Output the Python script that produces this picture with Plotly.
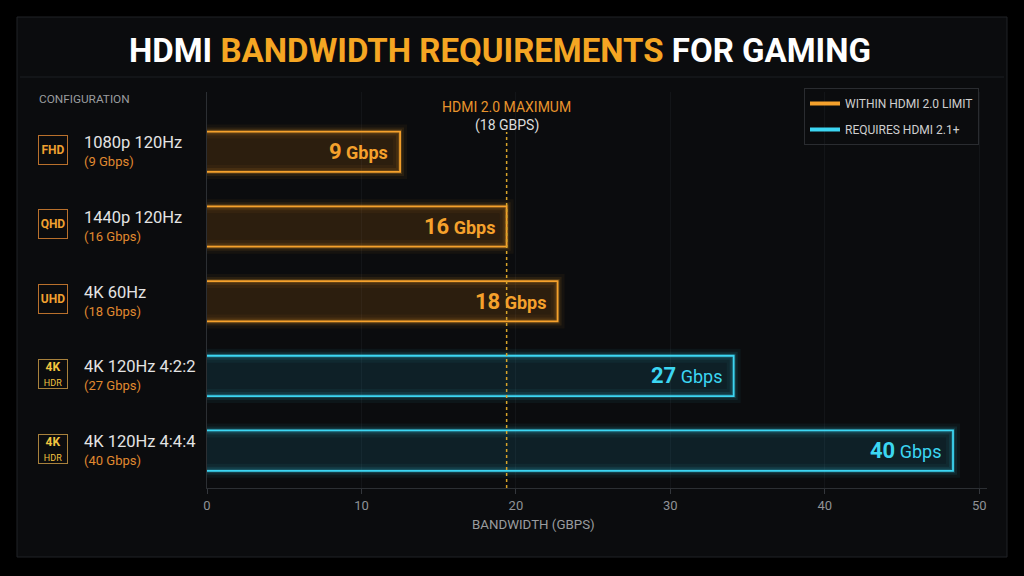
import plotly.graph_objects as go

# data
configs = ["1080p 120Hz", "1440p 120Hz", "4K 60Hz", "4K 120Hz 4:2:2", "4K 120Hz 4:4:4"]
badges = ["FHD", "QHD", "UHD", "4K HDR", "4K HDR"]
rated_gbps = [9, 16, 18, 27, 40]
bar_lengths = [12.5, 19.4, 22.7, 34.1, 48.3]   # drawn length on the axis
needs_hdmi21 = [False, False, False, True, True]
hdmi20_line = 19.4
x_ticks = [0, 10, 20, 30, 40, 50]

ORANGE = "#f5a12c"
CYAN = "#3cd6f2"
FONT = "Roboto"

# plot area in pixels, used for paper coordinates of the decorations
L, R, T, B = 207, 37, 92, 88
PW, PH = 1024 - L - R, 576 - T - B


def px(x):
    return (x - L) / PW


def py(y):
    return (576 - B - y) / PH


fig = go.Figure()

bar_base = -0.6  # left edge hidden behind the axis
for group, color, fill in [(False, ORANGE, "rgba(215,125,20,0.16)"),
                           (True, CYAN, "rgba(40,180,225,0.12)")]:
    ys = [c for c, g in zip(configs, needs_hdmi21) if g == group]
    xs = [v - bar_base for v, g in zip(bar_lengths, needs_hdmi21) if g == group]
    rgb = color.lstrip("#")
    r, g_, b = int(rgb[0:2], 16), int(rgb[2:4], 16), int(rgb[4:6], 16)
    # soft glow layers
    for w, a in [(14, 0.05), (8, 0.09), (4, 0.18)]:
        fig.add_trace(go.Bar(
            x=xs, y=ys, base=bar_base, orientation="h", width=0.54,
            marker_color="rgba(0,0,0,0)",
            marker_line=dict(color=f"rgba({r},{g_},{b},{a})", width=w),
            showlegend=False, hoverinfo="skip"
        ))
    fig.add_trace(go.Bar(
        x=xs, y=ys, base=bar_base, orientation="h", width=0.54,
        marker_color=fill,
        marker_line=dict(color=color, width=1.8),
        showlegend=False
    ))

# legend entries
fig.add_trace(go.Scatter(x=[None], y=[None], mode="lines", name="WITHIN HDMI 2.0 LIMIT",
                         legendgroup="a", line=dict(color=ORANGE, width=4)))
fig.add_trace(go.Scatter(x=[None], y=[None], mode="lines", name="REQUIRES HDMI 2.1+",
                         legendgroup="b", line=dict(color=CYAN, width=4)))

shapes = [
    # panel
    dict(type="rect", xref="paper", yref="paper", x0=px(17), x1=px(1007), y0=py(557), y1=py(17),
         fillcolor="#0b0c0e", line=dict(color="#202226", width=1), layer="below"),
    # line under the title
    dict(type="line", xref="paper", yref="paper", x0=px(20), x1=px(1004), y0=py(77), y1=py(77),
         line=dict(color="#1c1e22", width=1), layer="below"),
    # hdmi 2.0 limit
    dict(type="line", xref="x", yref="paper", x0=hdmi20_line, x1=hdmi20_line, y0=0, y1=py(132),
         line=dict(color="#d9a42a", width=1.5, dash="dot")),
]

ann = [
    dict(text="CONFIGURATION", xref="paper", yref="paper", x=px(37), y=py(99),
         xanchor="left", yanchor="middle", showarrow=False,
         font=dict(size=11.8, color="#9a9c9f")),
    dict(text="HDMI 2.0 MAXIMUM", xref="x", yref="paper", x=hdmi20_line, y=py(97),
         xanchor="center", showarrow=False, font=dict(size=14, color="#e8942c")),
    dict(text="(18 GBPS)", xref="x", yref="paper", x=hdmi20_line, y=py(115),
         xanchor="center", showarrow=False, font=dict(size=14, color="#dcdcdc")),
    dict(text="BANDWIDTH (GBPS)", xref="paper", yref="paper", x=px(533), y=py(534),
         xanchor="center", showarrow=False, font=dict(size=13.3, color="#9a9c9f")),
]

for cfg, badge, rated, length, hi in zip(configs, badges, rated_gbps, bar_lengths, needs_hdmi21):
    col = CYAN if hi else ORANGE
    if badge == "4K HDR":
        btxt = "<b>4K</b><br><span style='font-size:9px'>HDR</span>"
        bcol, bline = "#f2c440", "#a8813c"
    else:
        btxt = f"<b>{badge}</b>"
        bcol, bline = "#f0a030", "#b9702c"
    ann.append(dict(text=btxt, xref="paper", yref="y", x=px(53), y=cfg, yshift=2,
                    xanchor="center", showarrow=False, width=28, height=28, align="center",
                    bordercolor=bline, borderwidth=1, borderpad=0,
                    font=dict(size=12, color=bcol)))
    ann.append(dict(text=cfg, xref="paper", yref="y", x=px(82), y=cfg, yshift=9,
                    xanchor="left", showarrow=False,
                    font=dict(size=16.5, color="#e4e4e4")))
    ann.append(dict(text=f"({rated} Gbps)", xref="paper", yref="y", x=px(82), y=cfg, yshift=-10,
                    xanchor="left", showarrow=False,
                    font=dict(size=13, color="#e08a30")))
    unit = "<b>Gbps</b>" if not hi else "Gbps"
    ann.append(dict(text=f"<b><span style='font-size:22px'>{rated}</span></b> {unit}",
                    xref="x", yref="y", x=length, y=cfg, xshift=-10,
                    xanchor="right", showarrow=False,
                    font=dict(size=18, color=col)))

fig.update_layout(
    width=1024, height=576,
    margin=dict(l=L, r=R, t=T, b=B),
    paper_bgcolor="#000000",
    plot_bgcolor="rgba(0,0,0,0)",
    font=dict(family=FONT, color="#cccccc"),
    barmode="overlay",
    title=dict(
        text="<b>HDMI <span style='color:#f5a623'>BANDWIDTH REQUIREMENTS</span> FOR GAMING</b>",
        x=500 / 1024, xanchor="center", xref="container", y=1 - 50 / 576, yanchor="middle",
        font=dict(size=33, color="#ffffff", family=FONT)
    ),
    legend=dict(
        x=px(804), y=py(88), xanchor="left", yanchor="top",
        bgcolor="rgba(0,0,0,0)", bordercolor="#2a2c30", borderwidth=1,
        font=dict(size=12, color="#cfcfcf"), itemwidth=30, tracegroupgap=7
    ),
    shapes=shapes,
    annotations=ann,
    showlegend=True,
)
fig.update_xaxes(
    range=[0, 50.5], tickvals=x_ticks, showgrid=True, gridcolor="#131518",
    zeroline=False, showline=True, linecolor="#2c2f33", linewidth=1,
    ticks="outside", ticklen=5, tickcolor="#34373c",
    tickfont=dict(size=13, color="#8f9296")
)
fig.update_yaxes(
    type="category", categoryorder="array", categoryarray=configs,
    range=[4.5, -0.8], showticklabels=False, showgrid=False, zeroline=False,
    showline=True, linecolor="#2c2f33", linewidth=1
)

fig.write_html("out.html", config={"displayModeBar": False},
               post_script="document.body.style.margin='0';")
